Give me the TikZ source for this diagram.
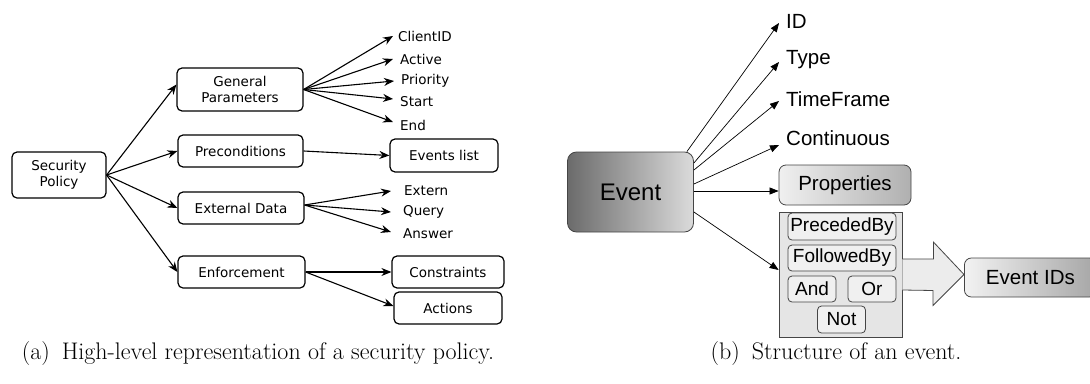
\documentclass[tikz,border=0pt]{standalone}
\usepackage{fontspec}
\newfontfamily\polfont{DejaVu Sans}
\newfontfamily\evfont{Liberation Sans}
\usetikzlibrary{arrows.meta}
\definecolor{evdark}{gray}{0.42}
\definecolor{evlight}{gray}{0.86}
\definecolor{boxedge}{gray}{0.27}
\tikzset{
  polbox/.style={draw, rounded corners=5pt, line width=1.2pt, align=center,
    inner sep=0pt, font=\polfont\fontsize{13.5}{16}\selectfont},
  pollabel/.style={anchor=west, inner xsep=7pt, inner ysep=1pt,
    font=\polfont\fontsize{13.5}{16}\selectfont},
  polarrow/.style={line width=1.1pt, -{Stealth[length=10pt,width=8pt]}},
  evbox/.style={draw=boxedge, rounded corners=7pt, line width=0.8pt,
    inner sep=0pt, font=\evfont\fontsize{20.5}{24}\selectfont},
  evlabel/.style={anchor=west, inner xsep=7pt, inner ysep=1pt,
    font=\evfont\fontsize{20.5}{24}\selectfont},
  opbox/.style={draw=boxedge, rounded corners=4pt, line width=0.8pt,
    fill=gray!12, inner sep=0pt, font=\evfont\fontsize{19}{22}\selectfont},
  evarrow/.style={line width=0.7pt, -{Triangle[length=9pt,width=7pt]}},
  caption/.style={font=\fontsize{24}{28}\selectfont},
}
\begin{document}
\begin{tikzpicture}[x=1pt,y=-1pt]
  \useasboundingbox (0,0) rectangle (1090,383);

  % (a) security policy
  \node[polbox, minimum width=94, minimum height=46] (policy) at (59,175) {Security\\Policy};
  \node[polbox, minimum width=126, minimum height=43] (general) at (240,89.5) {General\\Parameters};
  \node[polbox, minimum width=125, minimum height=32] (precond) at (240.5,151) {Preconditions};
  \node[polbox, minimum width=126, minimum height=32] (extdata) at (241,208) {External Data};
  \node[polbox, minimum width=127, minimum height=32] (enforce) at (241.5,272) {Enforcement};
  \node[polbox, minimum width=108, minimum height=33] (evlist) at (444,155.5) {Events list};
  \node[polbox, minimum width=112, minimum height=32] (constr) at (448,272) {Constraints};
  \node[polbox, minimum width=108, minimum height=32] (actions) at (448,308) {Actions};

  \node[pollabel, inner xsep=5pt] (clientid) at (393,36) {ClientID};
  \node[pollabel] (active) at (393,59) {Active};
  \node[pollabel] (priority) at (394,81) {Priority};
  \node[pollabel] (start) at (393,102) {Start};
  \node[pollabel] (end) at (393,125) {End};
  \node[pollabel, inner xsep=13pt] (extern) at (391,191) {Extern};
  \node[pollabel, inner xsep=12pt] (query) at (391,212) {Query};
  \node[pollabel, inner xsep=12pt] (answer) at (391,234) {Answer};

  \begin{scope}[polarrow]
    \draw (policy.east) to ([yshift=5pt]general.west);
    \draw (policy.east) to (precond.west);
    \draw (policy.east) to (extdata.west);
    \draw (policy.east) to (enforce.west);
    \draw (general.east) to (clientid.west);
    \draw (general.east) to (active.west);
    \draw (general.east) to (priority.west);
    \draw (general.east) to ([yshift=3pt]start.west);
    \draw (general.east) to ([yshift=3pt]end.west);
    \draw (precond.east) to (evlist.west);
    \draw ([yshift=3pt]extdata.east) to (extern.west);
    \draw ([yshift=3pt]extdata.east) to (query.west);
    \draw ([yshift=3pt]extdata.east) to ([yshift=2pt]answer.west);
    \draw (enforce.east) to (constr.west);
    \draw (enforce.east) to ([yshift=2pt]actions.west);
  \end{scope}

  \node[caption] (capa) at (258,354) {(a)\enspace High-level representation of a security policy.};

  % (b) event structure
  \node[evbox, rounded corners=9pt, minimum width=126, minimum height=80,
    left color=evdark, right color=evlight,
    font=\evfont\fontsize{24}{28}\selectfont] (event) at (630.5,192) {Event};
  \node[evbox, minimum width=132, minimum height=40,
    left color=gray!12, right color=gray!62] (props) at (845,185) {Properties};
  \node[draw=boxedge, line width=0.8pt, fill=gray!20, minimum width=123,
    minimum height=125, inner sep=0pt] (ops) at (840.5,274.5) {};
  \node[opbox, minimum width=108, minimum height=27] (preced) at (842,226.5) {PrecededBy};
  \node[opbox, minimum width=108, minimum height=26] (followed) at (842,258) {FollowedBy};
  \node[opbox, minimum width=48, minimum height=26] (and) at (812,289) {And};
  \node[opbox, minimum width=48, minimum height=26] (or) at (872,289) {Or};
  \node[opbox, minimum width=48, minimum height=27] (not) at (841.5,319.5) {Not};
  \node[evbox, minimum width=132, minimum height=39,
    left color=gray!10, right color=gray!70, anchor=west] (eventids) at (964,277.5) {Event IDs};

  \node[evlabel] (id) at (779,21) {ID};
  \node[evlabel] (type) at (779,60) {Type};
  \node[evlabel] (timeframe) at (779,99) {TimeFrame};
  \node[evlabel] (continuous) at (779,138) {Continuous};

  \begin{scope}[evarrow]
    \draw ([xshift=-7pt]event.north east) to ([yshift=-2pt]id.west);
    \draw ([yshift=29pt]event.east) to ([yshift=-2pt]type.west);
    \draw ([yshift=22pt]event.east) to ([yshift=-2pt]timeframe.west);
    \draw ([yshift=8pt]event.east) to ([yshift=-7pt]continuous.west);
    \draw ([yshift=1pt]event.east) to ([yshift=1pt]event.east -| props.west);
    \draw ([yshift=-20pt]event.east) to ([yshift=4.5pt]ops.west);
  \end{scope}

  \draw[draw=boxedge, line width=0.8pt, fill=gray!15]
    ([yshift=15.5pt]ops.east) -- ++(31,0) -- ++(0,-17) -- (eventids.west |- ops.east)
    -- ++(-31,31) -- ++(0,-15) -- ([yshift=-15.5pt]ops.east);

  \node[caption] (capb) at (836,354) {(b)\enspace Structure of an event.};
\end{tikzpicture}
\end{document}
